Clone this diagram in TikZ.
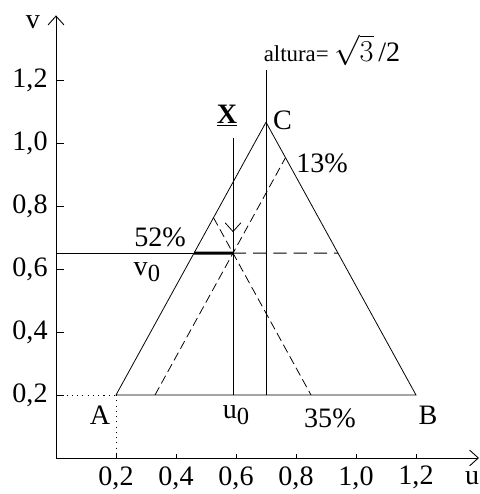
\documentclass[tikz,border=0pt]{standalone}
\usepackage{fontspec}
\setmainfont{Liberation Serif}
\usetikzlibrary{arrows.meta, calc, positioning}
\tikzset{
  axis/.style={-{Straight Barb[length=5pt,width=9pt]}, line width=0.5pt},
  side/.style={line width=0.45pt},
  aux/.style={line width=0.45pt, dash pattern=on 5pt off 2.5pt},
  hdash/.style={line width=0.45pt, dash pattern=on 7.5pt off 4pt},
  guide/.style={line width=0.5pt, dash pattern=on 0.6pt off 2.4pt},
  lbl/.style={font=\fontsize{16}{18}\selectfont, inner sep=0pt},
  small/.style={font=\fontsize{13}{15}\selectfont, inner sep=0pt},
}
\newcommand{\lowsub}[1]{\raisebox{-0.45ex}{\fontsize{14}{16}\selectfont #1}}

\begin{document}
\begin{tikzpicture}[x=6cm, y=6.3cm]
  \useasboundingbox (-0.1867,-0.1143) rectangle (1.41,1.454);

  % Axes
  \coordinate (O) at (0,0);
  \coordinate (uend) at (1.41,0);
  \coordinate (vend) at (0,1.405);
  \draw[axis] (O) -- (uend);
  \draw[axis] (O) -- (vend);
  \node[lbl] (ulab) at (1.387,-0.063) {u};
  \node[lbl] (vlab) at (-0.077,1.384) {v};

  % Ticks and tick labels
  \foreach \t/\s in {0.2/{0,2}, 0.4/{0,4}, 0.6/{0,6}, 0.8/{0,8}, 1.0/{1,0}, 1.2/{1,2}} {
    \draw[side] (0,\t) -- ++(0.027,0);
    \draw[side] (\t,0) -- ++(0,0.013);
    \node[lbl, anchor=east] at (-0.027,\t) {\s};
    \node[lbl] at (\t,-0.063) {\s};
  }

  % Triangle ABC (side 1)
  \coordinate (A) at (0.2,0.2);
  \coordinate (B) at (1.2,0.2);
  \coordinate (C) at (0.7,{0.2+sqrt(3)/2});
  \draw[side] (A) -- (B) -- (C) -- cycle;
  \node[lbl] (Alab) at (0.147,0.137) {A};
  \node[lbl] (Blab) at (1.24,0.137) {B};
  \node[lbl] (Clab) at (0.755,1.073) {C};

  % Dotted guides to A
  \coordinate (vA) at (O |- A);
  \coordinate (uA) at (A |- O);
  \draw[guide] (vA) -- (A);
  \draw[guide] (A) -- (uA);

  % Height through C
  \coordinate (Ctop) at (0.7,1.232);
  \coordinate (Cfoot) at (C |- A);
  \draw[side] (Ctop) -- (Cfoot);
  \node[small] (alt) at (0.92,1.295)
       {altura= {\fontsize{16}{18}\selectfont$\sqrt{3}$\,/2}};

  % Point X = 0.35 A + 0.13 B + 0.52 C
  \coordinate (P) at ($0.35*(A)+0.13*(B)+0.52*(C)$);
  \coordinate (L52) at ($0.48*(A)+0.52*(C)$);
  \coordinate (R52) at ($0.48*(B)+0.52*(C)$);
  \coordinate (E13b) at ($0.87*(A)+0.13*(B)$);
  \coordinate (E13) at ($0.13*(B)+0.87*(C)$);
  \coordinate (E35) at ($0.35*(A)+0.65*(B)$);
  \coordinate (E35c) at ($0.35*(A)+0.65*(C)$);

  % Lines through X
  \draw[aux] (E13b) -- (E13);
  \draw[aux] (E35c) -- (E35);
  \coordinate (v0) at (O |- P);
  \draw[side] (v0) -- (P);
  \draw[line width=1.6pt] (L52) -- (P);
  \draw[hdash] (P) -- (R52);

  % Vertical through X and arrow
  \node[lbl] (X) at (0.57,1.086) {\underline{\textbf{X}}};
  \coordinate (Xtop) at (P |- 0,1.016);
  \coordinate (Xtip) at (P |- 0,0.717);
  \coordinate (u0) at (P |- A);
  \draw[side] (Xtop) -- (u0);
  \draw[side, -{Straight Barb[length=5pt,width=9pt]}] (Xtop) -- (Xtip);

  % Labels
  \node[lbl] (l52) at (0.347,0.702) {52\%};
  \node[lbl] (l13) at (0.887,0.937) {13\%};
  \node[lbl] (l35) at (0.913,0.127) {35\%};
  \node[lbl] (v0lab) at (0.303,0.59) {v\lowsub{0}};
  \node[lbl] (u0lab) at (0.6,0.137) {u\lowsub{0}};
\end{tikzpicture}
\end{document}
